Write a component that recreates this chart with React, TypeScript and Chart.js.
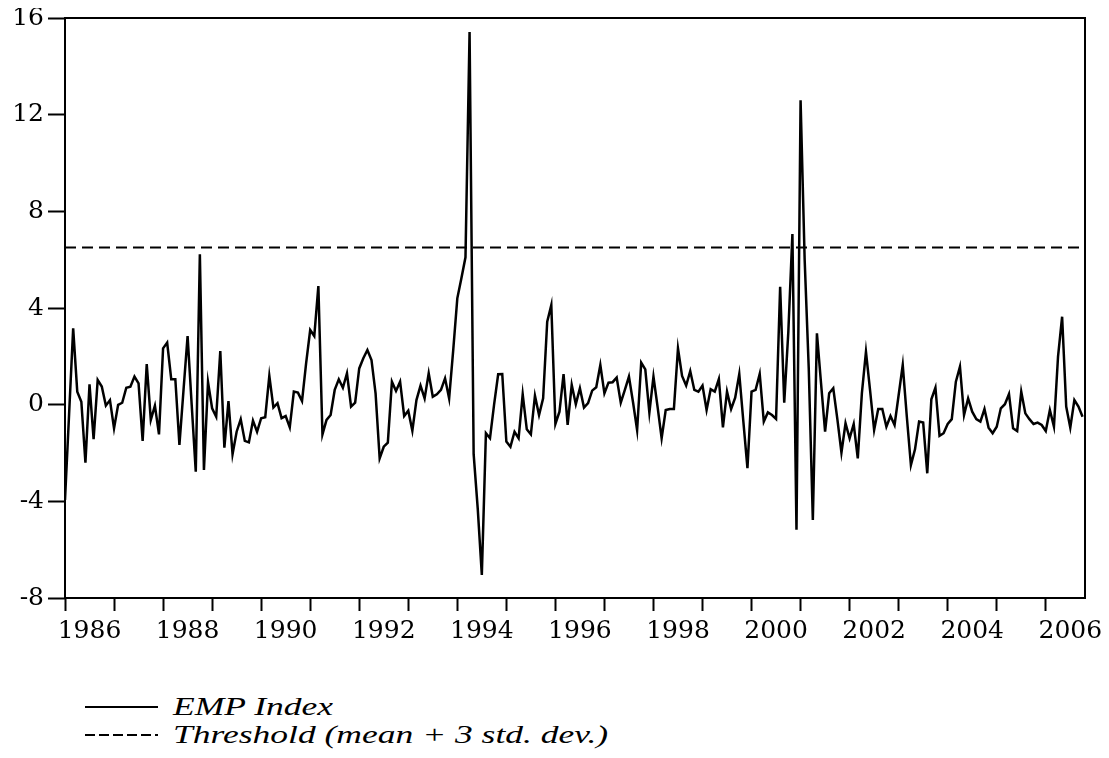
import React, { useEffect, useRef } from "react";
import { Chart, registerables } from "chart.js";

Chart.register(...registerables);

// Monthly EMP index, starting 1986:01
const START_YEAR = 1986;
const empIndex: number[] = [
  -3.94, -0.4, 3.16, 0.54, 0.12, -2.4, 0.84, -1.43, 1.02, 0.75, -0.04, 0.19,
  -0.98, -0.01, 0.08, 0.7, 0.74, 1.16, 0.88, -1.5, 1.68, -0.63, -0.04, -1.23,
  2.33, 2.57, 1.05, 1.05, -1.67, 0.6, 2.84, 0.0, -2.77, 6.22, -2.7, 0.93,
  -0.15, -0.5, 2.22, -1.78, 0.15, -2.05, -1.12, -0.6, -1.5, -1.56, -0.66, -1.12,
  -0.56, -0.52, 1.19, -0.12, 0.06, -0.56, -0.47, -0.94, 0.54, 0.5, 0.15, 1.71,
  3.09, 2.84, 4.91, -1.23, -0.63, -0.43, 0.61, 1.05, 0.7, 1.3, -0.08, 0.08,
  1.5, 1.92, 2.26, 1.85, 0.47, -2.22, -1.74, -1.57, 0.95, 0.57, 0.95, -0.47,
  -0.25, -1.08, 0.19, 0.79, 0.26, 1.3, 0.33, 0.43, 0.61, 1.09, 0.26, 2.26,
  4.4, 5.23, 6.1, 15.42, -2.05, -4.3, -7.05, -1.18, -1.39, 0.0, 1.26, 1.27,
  -1.53, -1.74, -1.12, -1.39, 0.43, -1.02, -1.23, 0.37, -0.43, 0.26, 3.43, 4.12,
  -0.8, -0.29, 1.26, -0.84, 0.82, 0.02, 0.68, -0.12, 0.06, 0.58, 0.72, 1.64,
  0.47, 0.91, 0.93, 1.12, 0.08, 0.61, 1.16, 0.1, -1.05, 1.74, 1.46, -0.33,
  1.16, -0.08, -1.39, -0.22, -0.18, -0.18, 2.33, 1.19, 0.79, 1.39, 0.61, 0.54,
  0.79, -0.22, 0.64, 0.54, 1.06, -0.94, 0.54, -0.18, 0.29, 1.27, -0.7, -2.63,
  0.54, 0.61, 1.27, -0.7, -0.32, -0.43, -0.59, 4.88, 0.08, 3.0, 7.06, -5.18,
  12.6, 6.0, 1.5, -4.77, 2.95, 0.9, -1.12, 0.47, 0.68, -0.6, -1.98, -0.77,
  -1.39, -0.8, -2.22, 0.47, 2.19, 0.6, -1.05, -0.18, -0.18, -0.91, -0.47, -0.84,
  0.4, 1.64, -0.5, -2.5, -1.85, -0.7, -0.74, -2.84, 0.22, 0.7, -1.29, -1.18,
  -0.8, -0.6, 0.95, 1.57, -0.43, 0.26, -0.29, -0.6, -0.7, -0.18, -0.95, -1.18,
  -0.91, -0.15, 0.02, 0.44, -0.98, -1.09, 0.54, -0.36, -0.6, -0.8, -0.74, -0.84,
  -1.09, -0.22, -0.91, 1.99, 3.64, -0.08, -0.95, 0.19, -0.08, -0.5,
];
const thresholdValue = 6.5;

const X_MIN = 1986;
const X_MAX = 2006.8;
const Y_MIN = -8;
const Y_MAX = 16;
const Y_STEP = 4;
const tickYears = [
  1986, 1987, 1988, 1989, 1990, 1991, 1992, 1993, 1994, 1995, 1996,
  1997, 1998, 1999, 2000, 2001, 2002, 2003, 2004, 2005, 2006,
];
const labelYears = [1986, 1988, 1990, 1992, 1994, 1996, 1998, 2000, 2002, 2004, 2006];
const legendLabels = ["EMP Index", "Threshold (mean + 3 std. dev.)"];

const TICK_FONT = "'DejaVu Serif', 'Liberation Serif', serif";
const LEGEND_FONT = "'Liberation Serif', 'Times New Roman', serif";

const framePlugin = {
  id: "frame",
  afterDatasetsDraw(chart: any) {
    const { ctx, chartArea } = chart;
    ctx.save();
    ctx.strokeStyle = "#000";
    ctx.lineWidth = 2;
    ctx.strokeRect(chartArea.left, chartArea.top, chartArea.right - chartArea.left, chartArea.bottom - chartArea.top);
    ctx.restore();
  },
};

export default function App() {
  const canvasRef = useRef<HTMLCanvasElement | null>(null);

  useEffect(() => {
    if (!canvasRef.current) return;
    const empPoints = empIndex.map((v, i) => ({ x: START_YEAR + i / 12, y: v }));
    const thresholdPoints = [
      { x: X_MIN, y: thresholdValue },
      { x: X_MAX, y: thresholdValue },
    ];
    const xTickValues = [...tickYears, ...labelYears.map((y) => y + 0.5)].sort((a, b) => a - b);

    const chart = new Chart(canvasRef.current, {
      type: "line",
      data: {
        datasets: [
          {
            label: legendLabels[0],
            data: empPoints,
            borderColor: "#000",
            borderWidth: 2.5,
            pointRadius: 0,
            tension: 0,
            fill: false,
          },
          {
            label: legendLabels[1],
            data: thresholdPoints,
            borderColor: "#000",
            borderWidth: 2,
            borderDash: [11, 6],
            pointRadius: 0,
            fill: false,
          },
        ],
      },
      options: {
        animation: false,
        responsive: true,
        maintainAspectRatio: false,
        layout: { padding: { top: 18, right: 16, left: 0, bottom: 0 } },
        plugins: {
          legend: { display: false },
          tooltip: { enabled: false },
        },
        scales: {
          x: {
            type: "linear",
            min: X_MIN,
            max: X_MAX,
            border: { display: false },
            afterBuildTicks: (axis: any) => {
              axis.ticks = xTickValues.map((v) => ({ value: v }));
            },
            afterFit: (scale: any) => {
              scale.height = 70;
              scale.paddingLeft = 0;
              scale.paddingRight = 0;
            },
            grid: {
              drawOnChartArea: false,
              drawTicks: true,
              tickLength: 13,
              tickWidth: 2,
              tickColor: (ctx: any) =>
                ctx.tick && Number.isInteger(ctx.tick.value) ? "#000" : "rgba(0,0,0,0)",
            },
            ticks: {
              autoSkip: false,
              maxRotation: 0,
              minRotation: 0,
              padding: 5,
              color: "#000",
              font: { family: TICK_FONT, size: 25 },
              callback: (value: any) => {
                const v = Number(value);
                if (Number.isInteger(v)) return "";
                const yr = Math.floor(v);
                return labelYears.includes(yr) ? String(yr) : "";
              },
            },
          },
          y: {
            type: "linear",
            min: Y_MIN,
            max: Y_MAX,
            border: { display: false },
            afterFit: (scale: any) => {
              scale.width = 57;
              scale.paddingTop = 0;
              scale.paddingBottom = 0;
            },
            grid: {
              drawOnChartArea: false,
              drawTicks: true,
              tickLength: 17,
              tickWidth: 2,
              tickColor: "#000",
            },
            ticks: {
              stepSize: Y_STEP,
              padding: 4,
              color: "#000",
              font: { family: TICK_FONT, size: 25 },
            },
          },
        },
      },
      plugins: [framePlugin],
    });
    return () => chart.destroy();
  }, []);

  const legendRow = (dash: string | undefined, text: string) => (
    <div style={{ display: "flex", alignItems: "center", height: 28 }}>
      <svg width={73} height={4} style={{ marginRight: 15, flex: "none" }}>
        <line x1={0} y1={2} x2={73} y2={2} stroke="#000" strokeWidth={2} strokeDasharray={dash} />
      </svg>
      <span
        style={{
          fontFamily: LEGEND_FONT,
          fontStyle: "italic",
          fontSize: 25,
          lineHeight: "28px",
          color: "#000",
          display: "inline-block",
          whiteSpace: "nowrap",
          transform: "scaleX(1.42)",
          transformOrigin: "left center",
        }}
      >
        {text}
      </span>
    </div>
  );

  return (
    <div style={{ width: 1093, marginTop: -8 }}>
      <div style={{ position: "relative", width: 1093, height: 668 }}>
        <canvas ref={canvasRef} />
      </div>
      <div style={{ marginTop: 25, marginLeft: 77 }}>
        {legendRow(undefined, legendLabels[0])}
        {legendRow("10 4", legendLabels[1])}
      </div>
    </div>
  );
}
